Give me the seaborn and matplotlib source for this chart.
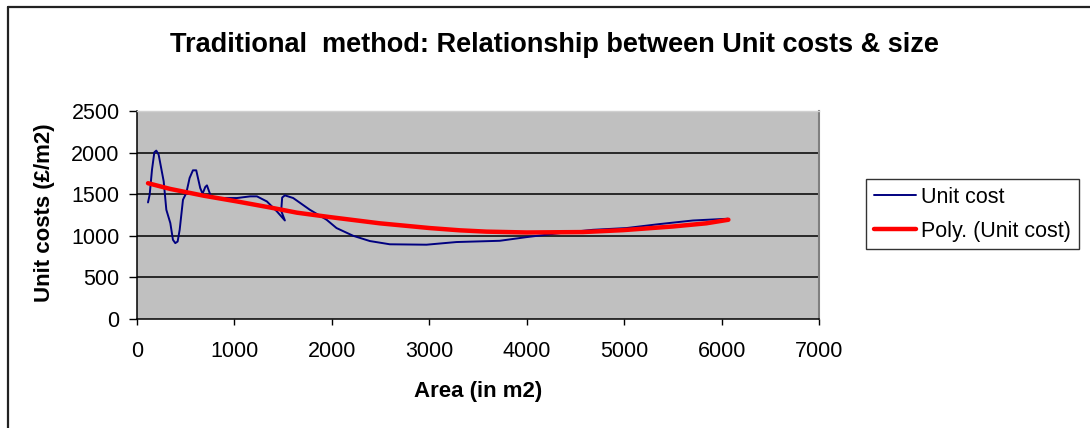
import numpy as np
import pandas as pd
import seaborn as sns
import matplotlib.pyplot as plt
from matplotlib.lines import Line2D

# valores (area en m2, coste unitario en GBP/m2)
area = [113, 130, 154, 178, 198, 222, 274, 301, 342, 369, 393, 417, 438, 472, 506,
        540, 574, 608, 649, 673, 701, 718, 752, 786, 1026, 1162, 1231, 1333, 1436,
        1518, 1480, 1490, 1518, 1603, 1774, 1946, 2048, 2219, 2390, 2595, 2971,
        3279, 3723, 3997, 4338, 4680, 5023, 5364, 5706, 6065]
unit_cost = [1401, 1494, 1795, 2004, 2024, 1976, 1654, 1313, 1153, 952, 912, 931, 1072,
             1434, 1514, 1695, 1787, 1787, 1574, 1506, 1587, 1606, 1494, 1454, 1454,
             1474, 1474, 1413, 1293, 1184, 1300, 1460, 1486, 1454, 1313, 1193, 1093,
             1000, 937, 898, 893, 925, 940, 984, 1032, 1072, 1093, 1141, 1184, 1205]

# linea de tendencia polinomica (leida tambien del grafico)
trend_area = [113, 342, 684, 1026, 1367, 1641, 1979, 2287, 2492, 3005, 3313, 3587,
              4000, 4578, 4988, 5501, 5843, 6070]
trend_cost = [1632, 1563, 1482, 1413, 1340, 1278, 1225, 1180, 1150, 1093, 1066, 1050,
              1040, 1045, 1068, 1112, 1150, 1193]

x_ticks = [0, 1000, 2000, 3000, 4000, 5000, 6000, 7000]
y_ticks = [0, 500, 1000, 1500, 2000, 2500]

df = pd.DataFrame({'area': area, 'cost': unit_cost})
df_trend = pd.DataFrame({'area': trend_area, 'cost': trend_cost})

sns.set_style("white")
plt.rcParams['font.family'] = ['Liberation Sans', 'DejaVu Sans']
plt.rcParams['text.color'] = 'black'
plt.rcParams['axes.labelcolor'] = 'black'
plt.rcParams['xtick.color'] = 'black'
plt.rcParams['ytick.color'] = 'black'

W, H = 1090, 428
fig = plt.figure(figsize=(W / 100, H / 100), dpi=100)
ax = fig.add_axes([137 / W, 1 - 319 / H, 682 / W, 208 / H])
ax.set_facecolor('#C0C0C0')

for g in y_ticks[1:-1]:
    ax.axhline(g, color='black', lw=1.1, zorder=1)

sns.lineplot(data=df, x='area', y='cost', sort=False, estimator=None,
             color='#000080', lw=1.4, ax=ax, zorder=3)
sns.lineplot(data=df_trend, x='area', y='cost', sort=False, estimator=None,
             color='#FF0000', lw=3.2, ax=ax, zorder=4)

ax.set_xlim(0, 7000)
ax.set_ylim(0, 2500)
ax.set_xticks(x_ticks)
ax.set_yticks(y_ticks)
ax.tick_params(axis='x', direction='out', length=4.5, width=1, color='black',
               labelsize=15.5, pad=11, bottom=True, labelcolor='black')
ax.tick_params(axis='y', direction='out', length=5.5, width=1, color='black',
               labelsize=15.5, pad=7, left=True, labelcolor='black')

for s in ['left', 'bottom']:
    ax.spines[s].set_color('black')
    ax.spines[s].set_linewidth(1.1)
ax.spines['right'].set_color('#808080')
ax.spines['right'].set_linewidth(1.5)
ax.spines['top'].set_color('#D0D0D0')
ax.spines['top'].set_linewidth(1)

ax.set_xlabel('Area (in m2)', fontsize=16, fontweight='bold', color='black')
ax.set_ylabel('Unit costs (£/m2)', fontsize=16, fontweight='bold', color='black')
ax.xaxis.set_label_coords(0.5, (319 - 392) / 208)
ax.yaxis.set_label_coords((45 - 137) / 682, 0.512)
ax.xaxis.label.set_va('center')
ax.yaxis.label.set_va('center')

fig.text(554 / W, 1 - 45 / H, 'Traditional  method: Relationship between Unit costs & size',
         ha='center', va='center', fontsize=19.5, fontweight='bold', color='black')

handles = [Line2D([], [], color='#000080', lw=1.4),
           Line2D([], [], color='#FF0000', lw=3.2)]
leg = ax.legend(handles, ['Unit cost', 'Poly. (Unit cost)'],
                loc='upper left', bbox_to_anchor=(866 / W, 1 - 179 / H),
                bbox_transform=fig.transFigure, fontsize=15.5, frameon=True,
                fancybox=False, shadow=False, borderpad=0.36, labelspacing=0.6,
                handlelength=1.95, handletextpad=0.25, borderaxespad=0)
leg.get_frame().set_edgecolor('black')
leg.get_frame().set_linewidth(1)
leg.get_frame().set_facecolor('white')
for t in leg.get_texts():
    t.set_color('black')

# marco exterior (solo arriba e izquierda visibles)
fig.add_artist(Line2D([8 / W, 8 / W], [0, 1 - 7 / H], transform=fig.transFigure,
                      color='#222222', lw=1.6))
fig.add_artist(Line2D([8 / W, 1], [1 - 7 / H, 1 - 7 / H], transform=fig.transFigure,
                      color='#222222', lw=1.6))

fig.savefig('out.png', dpi=100)
